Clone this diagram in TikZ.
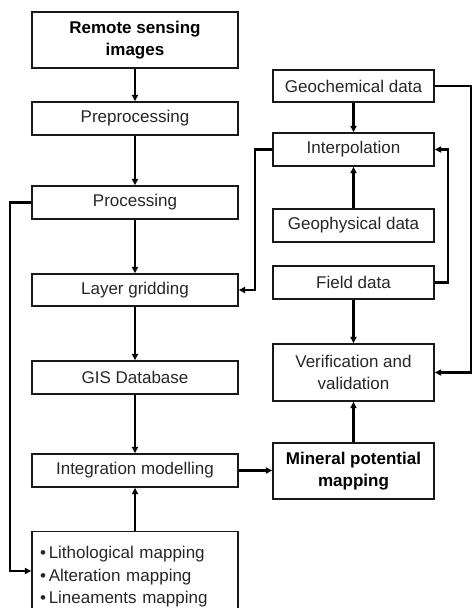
\documentclass[tikz,border=0pt]{standalone}
\usepackage{fontspec}
\setmainfont{Liberation Sans}
\usetikzlibrary{arrows.meta}
\begin{document}
\begin{tikzpicture}[x=1pt,y=-1pt,
  box/.style={draw=black!90, line width=1.4pt, rectangle, inner sep=0pt, align=center,
    font=\fontsize{17}{22}\selectfont, text=black!85},
  lbox/.style={box, minimum width=206pt},
  rbox/.style={box, minimum width=161pt},
  conn/.style={line width=2.2pt, draw=black},
  arr/.style={conn, -{Triangle[length=6.5pt,width=6pt]}}]
\useasboundingbox (0,0) rectangle (473,608);
\clip (0,0) rectangle (473,608);
% left column
\node[lbox, minimum height=56pt, font=\fontsize{17}{22}\selectfont\bfseries, text=black] (rs) at (135,40) {Remote sensing\\images};
\node[lbox, minimum height=33pt] (pre) at (135,118.5) {Preprocessing};
\node[lbox, minimum height=33pt] (proc) at (135,202.5) {Processing};
\node[lbox, minimum height=32pt] (lg) at (135,290) {Layer gridding};
\node[lbox, minimum height=33pt] (gis) at (135,377.5) {GIS Database};
\node[lbox, minimum height=33pt] (im) at (135,470.5) {Integration modelling};
\node[lbox, minimum height=90pt, anchor=north, align=left, text width=190pt, inner sep=0pt] (map) at (135,531)
  {\vspace*{1pt}%
   \textbullet\,Lithological mapping\\
   \textbullet\,Alteration mapping\\
   \textbullet\,Lineaments mapping\\[20pt]};
% right column
\node[rbox, minimum height=32pt] (geo) at (353.5,86) {Geochemical data};
\node[rbox, minimum height=33pt] (interp) at (353.5,149.5) {Interpolation};
\node[rbox, minimum height=33pt] (gphy) at (353.5,225.5) {Geophysical data};
\node[rbox, minimum height=33pt] (field) at (353.5,282.5) {Field data};
\node[rbox, minimum height=57pt] (ver) at (353.5,372.5) {Verification and\\validation};
\node[rbox, minimum height=56pt, font=\fontsize{17}{22}\selectfont\bfseries, text=black] (mpm) at (353.5,471) {Mineral potential\\mapping};
% helper coordinates
\coordinate (lx) at (10,0);
\coordinate (l571) at (0,571);
\coordinate (rx1) at (471,0);
\coordinate (rx2) at (448,0);
\coordinate (rx3) at (255,0);
% left connectors
\draw[arr] (rs.south) -- (pre.north);
\draw[arr] (pre.south) -- (proc.north);
\draw[arr] (proc.south) -- (lg.north);
\draw[arr] (lg.south) -- (gis.north);
\draw[arr] (gis.south) -- (im.north);
\draw[arr] (map.north) -- (im.south);
\draw[arr] (proc.west) -- (proc.west -| lx) |- (map.west |- l571);
% right connectors
\draw[arr] (geo.south) -- (interp.north);
\draw[arr] (gphy.north) -- (interp.south);
\draw[arr] (field.south) -- (ver.north);
\draw[arr] (mpm.north) -- (ver.south);
\draw[arr] (geo.east) -- (geo.east -| rx1) |- (ver.east);
\draw[arr] (field.east) -- (field.east -| rx2) |- (interp.east);
\draw[arr] (interp.west) -- (interp.west -| rx3) |- (lg.east);
\draw[arr] (im.east) -- (im.east -| mpm.west);
\end{tikzpicture}
\end{document}
